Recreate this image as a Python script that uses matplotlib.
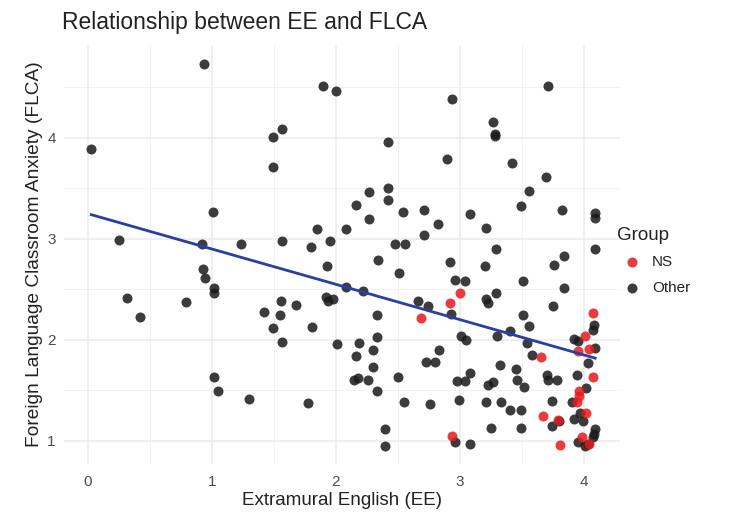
import matplotlib
matplotlib.use("Agg")
import matplotlib.pyplot as plt
import numpy as np

plt.rcParams['font.family'] = ['Liberation Sans', 'DejaVu Sans']

# ---- data ----
other_ee = [0.94, 0.03, 1.01, 0.25, 0.92, 1.24, 0.93, 0.95, 1.02, 1.02, 0.32, 0.42, 0.79, 1.02, 1.05, 1.30,
            1.90, 2.00, 1.57, 1.49, 1.49, 2.42, 2.42, 2.42, 2.27, 2.16, 2.27, 2.54, 2.71, 2.71, 2.08, 1.85,
            1.57, 1.80, 1.95, 2.48, 2.56,
            2.34, 2.51, 1.93, 2.08, 2.22, 1.92, 1.94, 1.98, 1.56, 1.55, 1.42, 1.68, 1.49, 1.81, 1.57, 2.33,
            2.66, 2.74, 2.01, 2.19, 2.33, 2.16, 2.30, 2.30, 2.15, 2.18, 2.26, 2.33, 2.50, 2.73, 2.55, 2.76,
            1.78, 2.40, 2.40,
            3.71, 2.94, 3.27, 3.28, 3.28, 2.90, 3.42, 3.69, 3.56, 3.49, 3.82, 4.09, 4.09, 3.08, 2.82, 3.21,
            3.29, 4.09,
            2.92, 3.20, 3.76, 3.84, 2.96, 3.04, 3.51, 3.84, 2.93, 3.21, 3.23, 3.29, 3.75, 3.51, 3.56, 3.40,
            3.30, 3.54, 3.01, 3.05, 2.83, 2.80, 3.58, 3.32, 3.45, 3.46, 3.52, 3.08, 2.98, 3.04, 3.23, 3.27,
            3.70, 3.71, 3.78, 2.99, 3.21, 3.33, 3.40, 3.49, 3.74, 3.25, 3.49, 2.96, 3.08, 3.80, 3.74,
            4.08, 4.07, 3.92, 3.95, 4.09, 4.03, 3.94, 4.02, 3.90, 3.97, 3.92, 3.99, 4.09, 4.08, 3.95, 4.03,
            4.01, 4.07]
other_flca = [4.73, 3.89, 3.27, 2.99, 2.95, 2.95, 2.70, 2.61, 2.51, 2.46, 2.41, 2.23, 2.37, 1.63, 1.49, 1.41,
              4.51, 4.46, 4.09, 4.01, 3.71, 3.96, 3.50, 3.38, 3.46, 3.34, 3.20, 3.27, 3.29, 3.04, 3.10, 3.10,
              2.98, 2.92, 2.98, 2.95, 2.95,
              2.79, 2.66, 2.73, 2.52, 2.48, 2.42, 2.38, 2.40, 2.38, 2.25, 2.28, 2.34, 2.12, 2.13, 1.98, 2.25,
              2.38, 2.33, 1.96, 1.97, 2.03, 1.84, 1.90, 1.73, 1.60, 1.62, 1.60, 1.49, 1.63, 1.78, 1.38, 1.36,
              1.37, 1.12, 0.95,
              4.51, 4.39, 4.16, 4.04, 4.02, 3.79, 3.75, 3.61, 3.47, 3.33, 3.29, 3.26, 3.21, 3.25, 3.15, 3.11,
              2.90, 2.90,
              2.77, 2.73, 2.74, 2.83, 2.59, 2.58, 2.58, 2.51, 2.26, 2.40, 2.36, 2.46, 2.33, 2.25, 2.14, 2.09,
              2.04, 1.97, 2.04, 2.00, 1.90, 1.78, 1.85, 1.75, 1.71, 1.60, 1.53, 1.67, 1.59, 1.59, 1.55, 1.58,
              1.65, 1.60, 1.60, 1.40, 1.38, 1.38, 1.30, 1.30, 1.39, 1.13, 1.13, 0.99, 0.97, 1.20, 1.15,
              2.15, 2.10, 2.01, 1.99, 1.92, 1.77, 1.65, 1.52, 1.38, 1.28, 1.22, 1.20, 1.12, 1.07, 0.99, 0.97,
              0.95, 1.04]

ns_ee = [2.69, 3.00, 2.92, 3.65, 2.94, 3.67, 3.79, 3.81, 4.07, 4.01, 3.95, 4.04, 4.07, 3.96, 3.96, 3.94,
         4.02, 3.98, 4.04]
ns_flca = [2.22, 2.46, 2.36, 1.83, 1.05, 1.25, 1.21, 0.96, 2.27, 2.04, 1.89, 1.91, 1.63, 1.49, 1.44, 1.38,
           1.28, 1.04, 0.97]

fit_intercept = 3.25
fit_slope = -0.35

x_ticks = [0, 1, 2, 3, 4]
y_ticks = [1, 2, 3, 4]

# ---- figure ----
fig = plt.figure(figsize=(7.35, 5.12), dpi=100)
ax = fig.add_axes([64 / 735, 1 - 464 / 512, (620 - 64) / 735, (464 - 45) / 512])

ax.set_xlim(-0.19, 4.29)
ax.set_ylim(0.77, 4.92)

ax.set_xticks(x_ticks)
ax.set_yticks(y_ticks)
ax.set_xticks([0.5, 1.5, 2.5, 3.5], minor=True)
ax.set_yticks([1.5, 2.5, 3.5, 4.5], minor=True)
ax.grid(which='major', color='#EBEBEB', linewidth=1.1)
ax.grid(which='minor', color='#F2F2F2', linewidth=0.7)
ax.set_axisbelow(True)
for s in ax.spines.values():
    s.set_visible(False)
ax.tick_params(which='both', length=0)
ax.tick_params(axis='x', labelsize=11, labelcolor='#4D4D4D', pad=8)
ax.tick_params(axis='y', labelsize=11, labelcolor='#4D4D4D', pad=6)

ax.scatter(other_ee, other_flca, s=52, color='#1a1a1a', alpha=0.85, linewidths=0, label='Other', zorder=2)
ax.scatter(ns_ee, ns_flca, s=52, color='#e41a1c', alpha=0.85, linewidths=0, label='NS', zorder=3)

all_x = np.array(other_ee + ns_ee)
xl = np.array([all_x.min(), all_x.max()])
ax.plot(xl, fit_intercept + fit_slope * xl, color='#2b3ea4', linewidth=2.0, zorder=4)

ax.set_xlabel('Extramural English (EE)', fontsize=13.5, color='#222222', labelpad=2)
ax.set_ylabel('Foreign Language Classroom Anxiety (FLCA)', fontsize=13.8, color='#222222', labelpad=3)
fig.text(62 / 735, 1 - 23 / 512, 'Relationship between EE and FLCA', fontsize=16.5,
         color='#222222', ha='left', va='center')

handles, labels = ax.get_legend_handles_labels()
order = [1, 0]
leg = fig.legend([handles[i] for i in order], [labels[i] for i in order], title='Group',
                 loc='upper left', bbox_to_anchor=(603 / 735, 1 - 213 / 512), frameon=False,
                 fontsize=11, title_fontsize=13.5, alignment='left', handletextpad=0.3,
                 labelspacing=0.75, markerscale=1.0)
for t in leg.get_texts():
    t.set_color('#222222')
leg.get_title().set_color('#222222')

fig.savefig('out.png', dpi=100, facecolor='white')
